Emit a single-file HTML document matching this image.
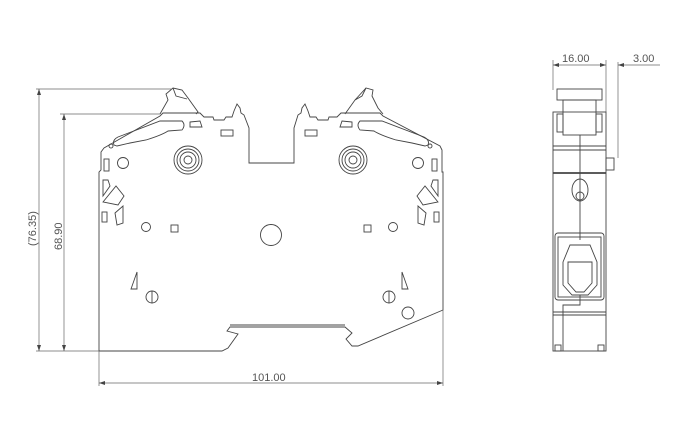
<!DOCTYPE html>
<html><head><style>body{margin:0;background:#fff}svg{display:block}text{font-family:"Liberation Sans",sans-serif;fill:#555;font-size:11px}</style></head>
<body>
<svg width="680" height="440" viewBox="0 0 680 440" xmlns="http://www.w3.org/2000/svg">
<g fill="none" stroke="#444" stroke-width="0.9">
<!-- main body outline -->
<path d="M99,351 L99,172 L101,170 L101,152 L104,148 L160,116 L163,113 L200,113 L204,117 L213,117 L214,120 L224,120 L226,117 L232,117 L234,111 L237,104 L240,108 L241,113 L244,115 L249,128 L249,163 L294,163 L294,128 L298,115 L301,113 L302,108 L305,104 L308,111 L310,117 L316,117 L318,120 L328,120 L329,117 L337,117 L341,113 L380,113 L383,116 L440,146 L442,150 L442,172 L443,172 L443,310 L358,346 L352,346 L346,339 L352,333 L345,327 L230,327 L227,331 L238,334 L228,348 L222,351 Z"/>
<!-- tabs -->
<path d="M160,114 L168,100 L166,94 L173,88 L182,90 L188,98 L198,112 L196,114"/>
<path d="M173,88 L176,96 L187,99"/>
<path d="M345,114 L355,100 L366,88 L373,90 L372,96 L378,108 L383,114"/>
<path d="M366,88 L362,96 L355,100"/>
<!-- slots -->
<path d="M114,145 Q112,140 118,137 L160,121 L182,121 Q186,125 182,130 L168,131 Q162,135 146,140 L130,143 L117,146 Z"/>
<path d="M428,145 Q430,140 424,137 L382,121 L360,121 Q356,125 360,130 L374,131 Q380,135 396,140 L412,143 L425,146 Z"/>
<path d="M190,122 L200,121 L202,127 L190,127 Z"/><path d="M352,122 L342,121 L340,127 L352,127 Z"/>
<!-- small rect clips -->
<rect x="221" y="130" width="12" height="6"/><rect x="305" y="130" width="12" height="6"/>
<rect x="104" y="159" width="5" height="12"/><rect x="432" y="159" width="5" height="12"/>
<rect x="102" y="212" width="5" height="10"/><rect x="434" y="212" width="5" height="10"/>
<!-- screws -->
<circle cx="188" cy="160" r="14"/><circle cx="188" cy="160" r="11"/><circle cx="188" cy="160" r="8"/><circle cx="188" cy="160" r="4"/>
<circle cx="353" cy="160" r="14"/><circle cx="353" cy="160" r="11"/><circle cx="353" cy="160" r="8"/><circle cx="353" cy="160" r="4"/>
<circle cx="123" cy="163" r="5.5"/><circle cx="418" cy="163" r="5.5"/>
<circle cx="111" cy="146" r="2"/><circle cx="430" cy="146" r="2"/>
<!-- left diagonal features -->
<path d="M103,180 L108,180 L110,186 L103,196 Z"/><path d="M103,202 L116,186 L124,196 L118,205 Z"/><path d="M115,213 L123,206 L123,223 L117,225 Z"/>
<path d="M438,180 L433,180 L431,186 L438,196 Z"/><path d="M438,202 L425,186 L417,196 L423,205 Z"/><path d="M426,213 L418,206 L418,223 L424,225 Z"/>
<circle cx="146" cy="227" r="4.5"/><rect x="171" y="225" width="7" height="7"/>
<circle cx="393" cy="227" r="4.5"/><rect x="364" y="225" width="7" height="7"/>
<circle cx="271" cy="235" r="10.5"/>
<path d="M137,272 L137,289 L131,289 Z"/><path d="M402,272 L402,289 L408,289 Z"/>
<circle cx="152" cy="297" r="6"/><line x1="152" y1="291" x2="152" y2="303"/>
<circle cx="389" cy="297" r="6"/><line x1="389" y1="291" x2="389" y2="303"/>
<circle cx="408" cy="313" r="6"/>
<line x1="230" y1="325" x2="345" y2="325"/>
</g>
<!-- dimension lines -->
<g stroke="#666" stroke-width="0.7" fill="none">
<line x1="36" y1="89" x2="172" y2="89"/><line x1="39" y1="89" x2="39" y2="351"/>
<line x1="60" y1="114" x2="160" y2="114"/><line x1="64" y1="114" x2="64" y2="351"/>
<line x1="36" y1="351" x2="99" y2="351"/>
<line x1="99" y1="351" x2="99" y2="386"/><line x1="443" y1="310" x2="443" y2="386"/>
<line x1="99" y1="383" x2="443" y2="383"/>
<line x1="553" y1="60" x2="553" y2="90"/><line x1="606" y1="60" x2="606" y2="112"/>
<line x1="553" y1="65" x2="606" y2="65"/>
<line x1="618" y1="62" x2="618" y2="158"/><line x1="618" y1="65" x2="660" y2="65"/>
</g>
<g fill="#444">
<path d="M39,89 l-2,6 h4 z"/><path d="M39,351 l-2,-6 h4 z"/>
<path d="M64,114 l-2,6 h4 z"/><path d="M64,351 l-2,-6 h4 z"/>
<path d="M99,383 l6,-2 v4 z"/><path d="M443,383 l-6,-2 v4 z"/>
<path d="M553,65 l6,-2 v4 z"/><path d="M606,65 l-6,-2 v4 z"/><path d="M618,65 l6,-2 v4 z"/>
</g>
<text x="0" y="0" transform="translate(36,246) rotate(-90)">(76.35)</text>
<text x="0" y="0" transform="translate(62,250) rotate(-90)">68.90</text>
<text x="252" y="381">101.00</text>
<text x="562" y="62">16.00</text>
<text x="633" y="62">3.00</text>
<!-- side view -->
<g fill="none" stroke="#444" stroke-width="0.9">
<rect x="553" y="112" width="53" height="239"/>
<rect x="557" y="89" width="45" height="11"/>
<rect x="563" y="100" width="33" height="35"/>
<rect x="557" y="114" width="6" height="18"/><rect x="596" y="114" width="6" height="18"/>
<line x1="553" y1="146" x2="606" y2="146"/><line x1="553" y1="150" x2="606" y2="150"/>
<line x1="553" y1="173" x2="606" y2="173" stroke-width="1.8"/>
<rect x="606" y="158" width="8" height="12"/>
<ellipse cx="580" cy="190" rx="8" ry="11"/><circle cx="580" cy="196" r="4"/>
<line x1="580" y1="135" x2="580" y2="240"/>
<rect x="555" y="233" width="49" height="67" rx="3"/>
<rect x="558" y="237" width="43" height="60"/>
<path d="M563,262 L570,245 L590,245 L597,262 L597,285 L588,295 L572,295 L563,285 Z"/>
<path d="M568,262 L592,262 L592,283 L584,292 L576,292 L568,283 Z"/>
<path d="M580,295 L580,305 L563,305 L563,351"/>
<line x1="553" y1="312" x2="606" y2="312"/><line x1="553" y1="315" x2="606" y2="315"/>
<rect x="555" y="345" width="6" height="6"/><rect x="598" y="345" width="6" height="6"/>
</g>
</svg>
</body></html>
